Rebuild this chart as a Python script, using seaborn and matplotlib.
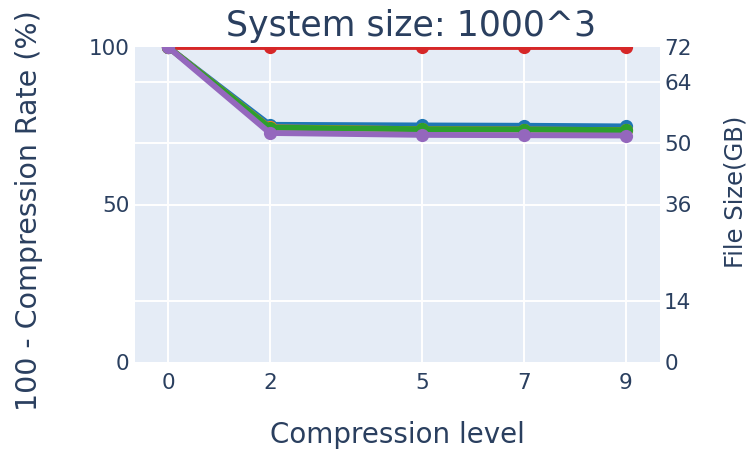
import matplotlib
matplotlib.use("Agg")
import matplotlib.pyplot as plt
import seaborn as sns
import pandas as pd

# Compression levels tested and the share of the original size kept (%)
levels = [0, 2, 5, 7, 9]
uncompressed = [100, 100, 100, 100, 100]
run_a = [100, 75.3, 75.1, 75.0, 74.8]
run_b = [100, 74.5, 73.9, 73.8, 73.6]
run_c = [100, 74.4, 73.9, 73.8, 73.6]
run_d = [100, 72.7, 72.1, 72.0, 71.9]

series_names = ["uncompressed", "run_a", "run_b", "run_c", "run_d"]
series_values = [uncompressed, run_a, run_b, run_c, run_d]
series_colors = ["#d62728", "#1f77b4", "#ff7f0e", "#2ca02c", "#9467bd"]
draw_order = ["uncompressed", "run_a", "run_b", "run_c", "run_d"]

left_ticks = [0, 50, 100]
right_ticks = [0, 14, 36, 50, 64, 72]
file_size_max = 72

title_text = "System size: 1000^3"
xlabel_text = "Compression level"
ylabel_text = "100 - Compression Rate (%)"
y2label_text = "File Size(GB)"

df = pd.DataFrame(
    [(n, x, v) for n, vals in zip(series_names, series_values) for x, v in zip(levels, vals)],
    columns=["series", "level", "rate"],
)

text_color = "#2a3f5f"
bg = "#E5ECF6"

sns.set_theme(style="whitegrid")
plt.rcParams["font.family"] = ["DejaVu Sans"]

W, H = 748, 453
fig = plt.figure(figsize=(W / 100, H / 100), dpi=100)
ax = fig.add_axes([135 / W, 1 - 362 / H, 525 / W, 315 / H])

# secondary scale for absolute file size; it carries the plot background
ax2 = ax.twinx()
ax2.set_zorder(1)
ax2.patch.set_visible(True)
ax2.set_facecolor(bg)
ax.set_zorder(2)
ax.patch.set_visible(False)

palette = dict(zip(series_names, series_colors))
for name in draw_order:
    sub = df[df["series"] == name]
    sns.lineplot(
        data=sub, x="level", y="rate", color=palette[name], marker="o",
        markersize=9.5, markeredgewidth=0, linewidth=4.2, ax=ax, legend=False,
        zorder=3,
    )

ax.set_xlim(-0.65, 9.67)
ax.set_ylim(0, 100)
ax.set_xticks(levels)
ax.set_yticks(left_ticks)
ax.grid(False)
ax.set_xlabel("")
ax.set_ylabel("")
for s in ax.spines.values():
    s.set_visible(False)

ax2.set_ylim(0, file_size_max)
ax2.set_yticks(right_ticks)
ax2.grid(False)
for s in ax2.spines.values():
    s.set_visible(False)

# white grid from both scales, drawn beneath the lines
for t in right_ticks[1:-1]:
    ax2.axhline(t, color="white", linewidth=1.4, zorder=0)
for t in left_ticks[1:-1]:
    ax2.axhline(t * file_size_max / 100, color="white", linewidth=1.4, zorder=0)
for x in levels:
    ax2.axvline(x, color="white", linewidth=1.4, zorder=0)

ax.tick_params(axis="both", length=0, labelsize=15.5, labelcolor=text_color)
ax.tick_params(axis="x", pad=8)
ax.tick_params(axis="y", pad=4)
ax2.tick_params(axis="y", length=0, labelsize=15.5, labelcolor=text_color, pad=3)

fig.text(397 / W, 1 - 435 / H, xlabel_text, ha="center", va="center",
         fontsize=20, color=text_color)
fig.text(29 / W, 1 - 211 / H, ylabel_text, ha="center", va="center",
         rotation=90, fontsize=20.5, color=text_color)
fig.text(735 / W, 1 - 192 / H, y2label_text, ha="center", va="center",
         rotation=90, fontsize=17.5, color=text_color)
fig.text(411 / W, 1 - 26 / H, title_text, ha="center", va="center",
         fontsize=25, color=text_color)

fig.savefig("out.png", dpi=100, facecolor="white")
